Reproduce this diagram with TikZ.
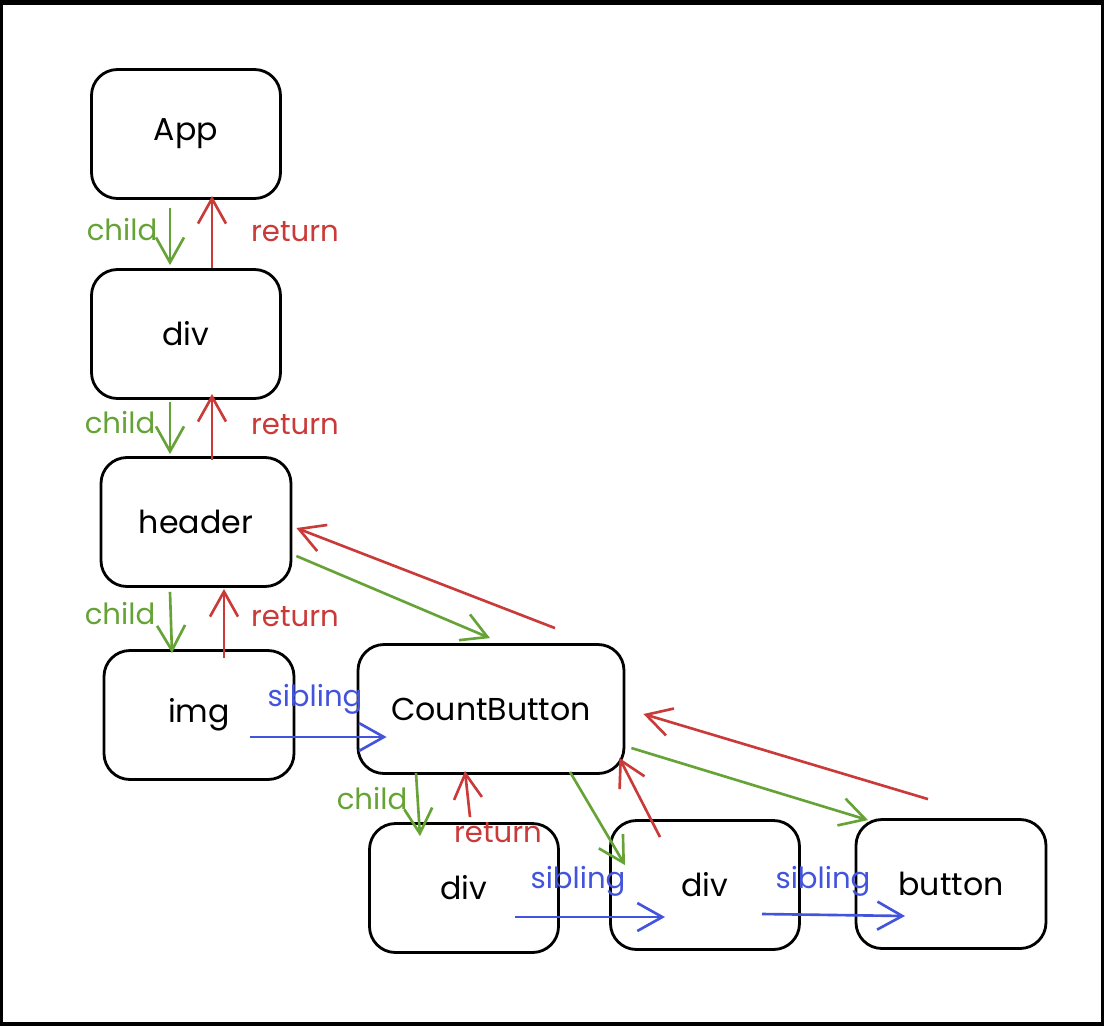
\documentclass[tikz,border=0pt]{standalone}
\usepackage{fontspec}
\setmainfont{Poppins}
\usetikzlibrary{arrows.meta,calc}
\definecolor{linkgreen}{HTML}{66A336}
\definecolor{linkred}{HTML}{C93A38}
\definecolor{linkblue}{HTML}{4354DC}
\tikzset{
  fiber/.style={draw=black, line width=0.8pt, rounded corners=2.6mm,
    minimum width=#1, minimum height=12.9mm, font=\fontsize{9}{10}\selectfont, inner sep=0pt},
  fiber/.default=18.9mm,
  link/.style={line width=0.75pt, -{Straight Barb[length=2.5mm,width=2.8mm,line width=0.75pt]}},
  childlink/.style={link, draw=linkgreen},
  returnlink/.style={link, draw=linkred},
  siblinglink/.style={link, draw=linkblue},
  tag/.style={font=\fontsize{8.3}{9}\selectfont, inner sep=0pt},
}
\begin{document}
\begin{tikzpicture}[x=0.1mm, y=-0.1mm]
  % frame
  \fill[black] (0,0) rectangle (1104,1026);
  \fill[white] (3,5) rectangle (1101,1022);
  \useasboundingbox (0,0) rectangle (1104,1026);

  % fiber nodes
  \node[fiber] (app) at (186,134) {App};
  \node[fiber] (div1) at (186,334) {div};
  \node[fiber=19mm] (header) at (196,522) {header};
  \node[fiber=19mm] (img) at (199,715) {img};
  \node[fiber=26.6mm] (cb) at (491,709) {CountButton};
  \node[fiber] (div2) at (464,888) {div};
  \node[fiber] (div3) at (705,885) {div};
  \node[fiber=19mm] (button) at (951,884) {button};

  % App <-> div
  \draw[childlink] ($(app.south)+(-16,8)$) -- ($(div1.north)+(-16,-3)$);
  \draw[returnlink] ($(div1.north)+(26,0)$) -- ($(app.south)+(26,-4)$);
  \node[tag, text=linkgreen] (c1) at (122,230) {child};
  \node[tag, text=linkred] (r1) at (295,232) {return};

  % div <-> header
  \draw[childlink] ($(div1.south)+(-16,2)$) -- ($(header.north)+(-26,-2)$);
  \draw[returnlink] ($(header.north)+(16,4)$) -- ($(div1.south)+(26,-6)$);
  \node[tag, text=linkgreen] (c2) at (120,423) {child};
  \node[tag, text=linkred] (r2) at (295,425) {return};

  % header <-> img
  \draw[childlink] ($(header.south)+(-26,4)$) -- ($(img.north)+(-27,4)$);
  \draw[returnlink] ($(img.north)+(25,9)$) -- ($(header.south)+(28,1)$);
  \node[tag, text=linkgreen] (c3) at (120,614) {child};
  \node[tag, text=linkred] (r3) at (295,617) {return};

  % img -> CountButton
  \draw[siblinglink] ($(img.center)+(51,22)$) -- ($(cb.west)+(30,28)$);
  \node[tag, text=linkblue] (s1) at (315,699) {sibling};

  % header <-> CountButton
  \draw[childlink] ($(header.east)+(4,34)$) -- ($(cb.north)+(-1,-5)$);
  \draw[returnlink] ($(cb.north)+(64,-15)$) -- ($(header.east)+(4,6)$);

  % CountButton <-> first div
  \draw[childlink] ($(cb.south)+(-75,-2)$) -- ($(div2.north)+(-44,14)$);
  \draw[returnlink] ($(div2.north)+(6,-5)$) -- ($(cb.south)+(-26,-4)$);
  \node[tag, text=linkgreen] (c4) at (372,799) {child};
  \node[tag, text=linkred] (r4) at (498,833) {return};

  % CountButton <-> second div
  \draw[childlink] ($(cb.south)+(79,-3)$) -- ($(div3.north)+(-80,46)$);
  \draw[returnlink] ($(div3.north)+(-45,18)$) -- ($(cb.east)+(-6,49)$);

  % CountButton <-> button
  \draw[childlink] ($(cb.east)+(6,39)$) -- ($(button.north)+(-83,2)$);
  \draw[returnlink] ($(button.north)+(-23,-19)$) -- ($(cb.east)+(18,5)$);

  % siblings in the bottom row
  \draw[siblinglink] ($(div2.center)+(51,29)$) -- ($(div3.center)+(-40,32)$);
  \draw[siblinglink] ($(div3.center)+(57,29)$) -- ($(button.center)+(-46,32)$);
  \node[tag, text=linkblue] (s2) at (578,881) {sibling};
  \node[tag, text=linkblue] (s3) at (823,881) {sibling};
\end{tikzpicture}
\end{document}
